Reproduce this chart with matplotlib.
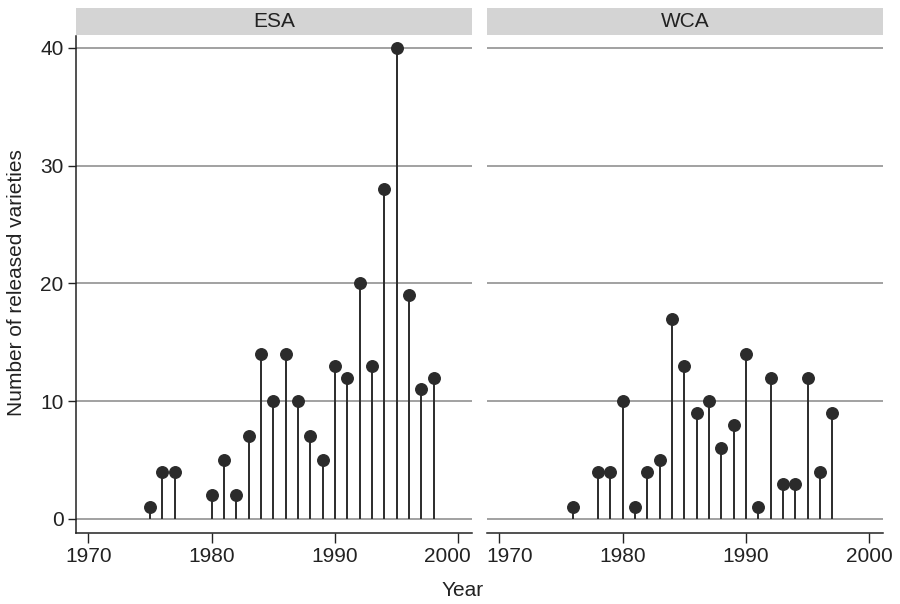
import matplotlib
matplotlib.use("Agg")
import matplotlib.pyplot as plt
import matplotlib.transforms as mtransforms
from matplotlib.patches import Rectangle

plt.rcParams['font.family'] = ['Liberation Sans', 'DejaVu Sans']

esa_years = [1975, 1976, 1977, 1980, 1981, 1982, 1983, 1984, 1985, 1986, 1987,
             1988, 1989, 1990, 1991, 1992, 1993, 1994, 1995, 1996, 1997, 1998]
esa_counts = [1, 4, 4, 2, 5, 2, 7, 14, 10, 14, 10, 7, 5, 13, 12, 20, 13, 28, 40, 19, 11, 12]

wca_years = [1976, 1978, 1979, 1980, 1981, 1982, 1983, 1984, 1985, 1986, 1987,
             1988, 1989, 1990, 1991, 1992, 1993, 1994, 1995, 1996, 1997]
wca_counts = [1, 4, 4, 10, 1, 4, 5, 17, 13, 9, 10, 6, 8, 14, 1, 12, 3, 3, 12, 4, 9]

panels = ["ESA", "WCA"]
x_ticks = [1970, 1980, 1990, 2000]
y_ticks = [0, 10, 20, 30, 40]

W, H = 900, 604
fig = plt.figure(figsize=(9, 6.04), dpi=100)

def fx(px):
    return px / W

def fy(py):
    return 1 - py / H

bottom, top = 533, 36
axes_px = [(76, 472), (487, 883)]
stem_color = "#2b2b2b"
txt_color = "#222222"
fs = 15

data = [(esa_years, esa_counts), (wca_years, wca_counts)]
for i, ((x0, x1), name, (yrs, cnts)) in enumerate(zip(axes_px, panels, data)):
    ax = fig.add_axes([fx(x0), fy(bottom), fx(x1 - x0), fy(top) - fy(bottom)])
    ax.set_xlim(1969.0, 2001.1)
    ax.set_ylim(-1.2, 41.0)
    for yv in y_ticks:
        ax.axhline(yv, color="#9a9a9a", lw=1.3, zorder=1)
    ax.vlines(yrs, 0, cnts, color=stem_color, lw=1.4, zorder=2)
    ax.plot(yrs, cnts, 'o', color=stem_color, ms=8.3, zorder=3)
    ax.set_xticks(x_ticks)
    ax.set_xticklabels([str(t) for t in x_ticks], fontsize=fs)
    ax.set_yticks(y_ticks)
    ax.tick_params(axis='x', direction='out', length=7, width=1.0, color=txt_color,
                   labelsize=fs, labelcolor=txt_color, pad=3)
    ax.tick_params(axis='y', direction='out', length=6, width=1.0, color=txt_color,
                   labelsize=fs, labelcolor=txt_color, pad=3)
    ax.spines['top'].set_visible(False)
    ax.spines['right'].set_visible(False)
    ax.spines['bottom'].set_color(txt_color)
    ax.spines['bottom'].set_linewidth(1.1)
    if i == 0:
        ax.spines['left'].set_color(txt_color)
        ax.spines['left'].set_linewidth(1.1)
        ax.set_yticklabels([str(t) for t in y_ticks])
    else:
        ax.spines['left'].set_visible(False)
        ax.tick_params(axis='y', left=False, labelleft=False)
    # keep edge tick labels inside the panel width
    labels = ax.get_xticklabels()
    if i == 0:
        off = mtransforms.ScaledTranslation(-11 / 100, 0, fig.dpi_scale_trans)
        labels[-1].set_transform(labels[-1].get_transform() + off)
    else:
        off = mtransforms.ScaledTranslation(10 / 100, 0, fig.dpi_scale_trans)
        labels[0].set_transform(labels[0].get_transform() + off)
    # strip header
    fig.patches.append(Rectangle((fx(x0), fy(35)), fx(x1 - x0), fy(8) - fy(35),
                                 transform=fig.transFigure, facecolor="#d4d4d4",
                                 edgecolor="none"))
    fig.text(fx((x0 + x1) / 2), fy(21.5), name, ha="center", va="center",
             fontsize=fs, color=txt_color)

fig.text(fx(463), fy(591), "Year", ha="center", va="center", fontsize=fs, color=txt_color)
fig.text(fx(17), fy(283), "Number of released varieties", ha="center", va="center",
         rotation=90, fontsize=fs, color=txt_color)

fig.savefig("out.png", dpi=100)
